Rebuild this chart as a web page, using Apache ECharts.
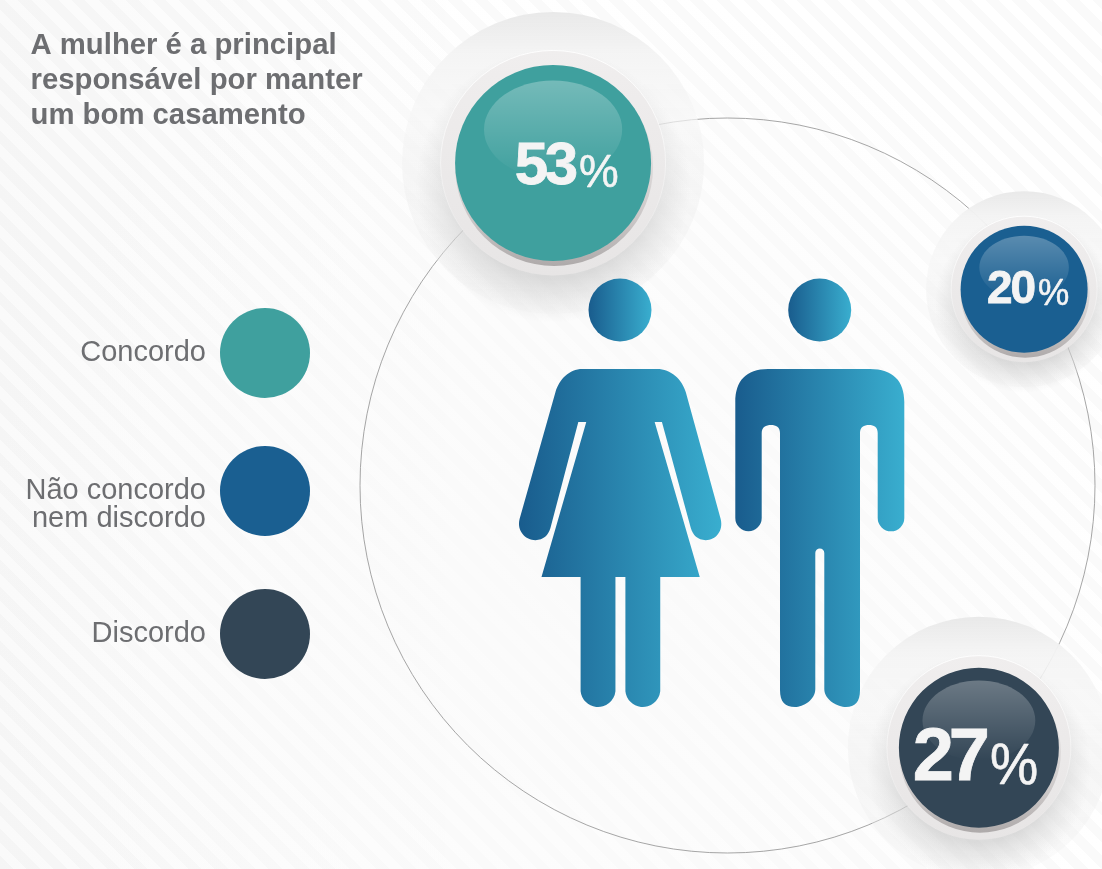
<!DOCTYPE html>
<html><head><meta charset="utf-8">
<style>
html,body{margin:0;padding:0;width:1102px;height:869px;overflow:hidden}
body{background:
 radial-gradient(circle at 560px 580px, rgba(250,250,250,.9) 0, rgba(250,250,250,.55) 300px, rgba(250,250,250,0) 600px),
 linear-gradient(to right, rgba(0,0,0,.018), rgba(0,0,0,0) 45%),
 repeating-linear-gradient(45deg,#fafafa 0,#fafafa 9.5px,#ffffff 9.5px,#ffffff 19px);}
#c{width:1102px;height:869px}
</style>
<script src="https://cdn.jsdelivr.net/npm/echarts@6/dist/echarts.min.js"></script>
</head><body><div id="c"></div>
<script>
const titleText = 'A mulher é a principal\nresponsável por manter\num bom casamento';
const categories = ['Concordo', 'Não concordo\nnem discordo', 'Discordo'];
const values = [53, 20, 27];
const colors = ['#3fa09e', '#1a5f91', '#334656'];
// layout of the bubbles on the ring (distance from ring centre, angle, sizes)
const ringDist = [366.7, 355.7, 363.2];
const ringAngle = [118.4, 33.5, 313.8];
const bubbleR = [98, 63.5, 80];
const ringR = [112.5, 73, 92];
const haloR = [151, 98, 131];
const numFont = [60, 46, 74];
const pctFont = [47, 37, 57];
const digitAdvance = [30, 23.5, 36];
const numRight = [25, 12, 11];
const pctLeft = [26, 14, 11];
const baseline = [34.5, 24.5, 49];
const legendTop = [308, 446, 589];

const blue = () => new echarts.graphic.LinearGradient(0, 0, 1, 0, [
  {offset: 0, color: '#195c8d'}, {offset: 1, color: '#39aecf'}]);

const womanPath = 'M582 369 L657 369 C671 369 682 379 686 392 L721 518 C724 530 716 539 706 539 C698 539 693 534 691 527 L662 421.7 L654.7 421.7 L700 575.7 L660.3 575.7 L660.3 689 A17.6 17.6 0 0 1 625.3 689 L625.3 575.7 L615.3 575.7 L615.3 689 A17.6 17.6 0 0 1 580.3 689 L580.3 575.7 L541 575.7 L586 421.7 L578 421.7 L550 527 C548 534 543 539 535 539 C525 539 516 530 519 518 L555 392 C559 379 569 369 582 369 Z';
const manPath = 'M768 369 L870 369 C893 369 904.3 381 904.3 402 L904.3 518 A13.3 13.3 0 0 1 877.7 518 L877.7 433 C877.7 427 874 425 869 425 C864 425 860 427 860 433 L860 690 C860 702 855 707 846 707 C838 707 824.3 700 824.3 689 L824.3 553 A4.5 4.5 0 0 0 815.3 553 L815.3 689 C815.3 700 803 707 795 707 C785 707 780 702 780 690 L780 433 C780 427 776 425 771 425 C766 425 761.7 427 761.7 433 L761.7 518 A13.2 13.2 0 0 1 735.3 518 L735.3 402 C735.3 381 746 369 768 369 Z';

function bubbleItem(i) {
  return function (params, api) {
    const p = api.coord([api.value(0), api.value(1)]);
    const cx = p[0], cy = p[1], r = bubbleR[i], rr = ringR[i], h = haloR[i];
    const digits = String(api.value(2)).split('');
    const fade = (a, b) => ({type: 'linear', x: 0, y: 0, x2: 0, y2: 1, colorStops: [{offset: 0, color: a}, {offset: 1, color: b}]});
    const digitEls = digits.map((d, k) => ({
      type: 'text', x: cx + numRight[i] - digitAdvance[i] * (digits.length - 1 - k), y: cy + baseline[i],
      style: {text: d, fill: '#f4f4f4', stroke: '#f4f4f4', lineWidth: 0.8, fontFamily: 'Liberation Sans', fontWeight: 'bold', fontSize: numFont[i], align: 'right', verticalAlign: 'bottom', lineHeight: numFont[i]}
    }));
    return {
      type: 'group',
      children: [
        {type: 'circle', shape: {cx, cy, r: h}, style: {fill: {type: 'linear', x: 0, y: 0, x2: 0, y2: 1, colorStops: [
          {offset: 0, color: 'rgba(233,233,233,1)'},
          {offset: 0.14, color: 'rgba(244,244,244,0.95)'},
          {offset: 0.36, color: 'rgba(246,246,246,0.7)'},
          {offset: 0.6, color: 'rgba(240,240,240,0.55)'},
          {offset: 1, color: 'rgba(236,236,236,0.15)'}]}}},
        {type: 'circle', shape: {cx, cy: cy + rr * 0.2, r: rr * 1.22}, style: {fill: {type: 'radial', x: 0.5, y: 0.5, r: 0.5, colorStops: [
          {offset: 0.68, color: 'rgba(190,190,190,0.5)'},
          {offset: 1, color: 'rgba(200,200,200,0)'}]}}},
        {type: 'circle', shape: {cx, cy, r: rr}, style: {fill: fade('#f0eeee', '#e7e5e5'), stroke: fade('rgba(255,255,255,0.9)', 'rgba(255,255,255,0)'), lineWidth: 1}},
        {type: 'circle', shape: {cx: cx + 1, cy: cy + 4, r: r + 1}, style: {fill: {type: 'linear', x: 0, y: 0, x2: 0, y2: 1, colorStops: [
          {offset: 0.4, color: 'rgba(205,200,200,0.3)'},
          {offset: 0.75, color: 'rgba(200,196,196,0.9)'},
          {offset: 1, color: '#aeaaaa'}]}}},
        {type: 'circle', shape: {cx, cy, r}, style: {fill: colors[i]}},
        {type: 'ellipse', shape: {cx, cy: cy - r * 0.34, rx: r * 0.705, ry: r * 0.5}, style: {fill: fade('rgba(255,255,255,0.28)', 'rgba(255,255,255,0)')}}
      ].concat(digitEls, [
        {type: 'text', x: cx + pctLeft[i], y: cy + baseline[i], scaleX: 0.95, scaleY: 1,
          style: {text: '%', fill: '#f4f4f4', stroke: '#f4f4f4', lineWidth: 0.6, fontFamily: 'Liberation Sans', fontSize: pctFont[i], align: 'left', verticalAlign: 'bottom', lineHeight: pctFont[i]}}
      ])
    };
  };
}

const bubbleSeries = categories.map((c, i) => ({
  type: 'custom', name: c, coordinateSystem: 'polar', clip: false, silent: true, z: 2,
  itemStyle: {color: colors[i]},
  data: [[ringDist[i], ringAngle[i], values[i]]],
  renderItem: bubbleItem(i)
}));

const figureSeries = {
  type: 'custom', name: 'figuras', coordinateSystem: 'none', silent: true, z: 5,
  data: [[0]],
  renderItem: () => ({type: 'group', children: [
    {type: 'path', shape: {pathData: womanPath, layout: 'cover', x: 519, y: 369, width: 202.3, height: 338}, style: {fill: blue()}},
    {type: 'path', shape: {pathData: manPath, layout: 'cover', x: 735.3, y: 369, width: 169, height: 338}, style: {fill: blue()}},
    {type: 'circle', shape: {cx: 620, cy: 310, r: 31.5}, style: {fill: blue()}},
    {type: 'circle', shape: {cx: 819.7, cy: 310, r: 31.5}, style: {fill: blue()}}
  ]})
};

const chart = echarts.init(document.getElementById('c'), null, {renderer: 'canvas'});
chart.setOption({
  animation: false,
  backgroundColor: 'transparent',
  title: {text: titleText, left: 30.5, top: 28, padding: 0, textStyle: {fontFamily: 'Liberation Sans', fontWeight: 'bold', fontSize: 29.3, lineHeight: 35, color: '#6d6e71'}},
  legend: categories.map((c, i) => ({
    right: 792, top: legendTop[i], padding: 0, orient: 'vertical', align: 'right',
    itemWidth: 108, itemHeight: 90, selectedMode: false, icon: 'circle',
    data: [{name: c, icon: 'circle', itemStyle: {color: colors[i]}}],
    formatter: n => n.indexOf('\n') >= 0 ? '\n' + n : n,
    textStyle: {fontFamily: 'Liberation Sans', fontSize: 29, lineHeight: 28, color: '#6d6e71'}
  })),
  polar: {center: [727.5, 485.5], radius: 367.5},
  radiusAxis: {min: 0, max: 367.5, show: false},
  angleAxis: {min: 0, max: 360, startAngle: 0, clockwise: false,
    axisLine: {show: true, lineStyle: {color: '#8f8f8f', width: 0.8}},
    axisTick: {show: false}, axisLabel: {show: false}, splitLine: {show: false}},
  series: bubbleSeries.concat([figureSeries])
});
</script></body></html>
